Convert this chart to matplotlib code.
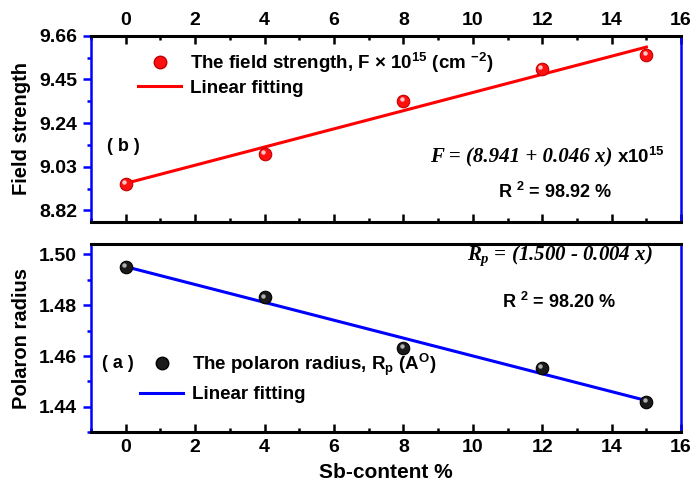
import matplotlib
matplotlib.use('Agg')
import matplotlib.pyplot as plt
import matplotlib.transforms as mtransforms
from matplotlib.ticker import MultipleLocator, FormatStrFormatter
from matplotlib.lines import Line2D
import numpy as np

plt.rcParams['font.family'] = 'Liberation Sans'
plt.rcParams['font.weight'] = 'bold'
plt.rcParams['axes.labelweight'] = 'bold'
plt.rcParams['mathtext.fontset'] = 'custom'
plt.rcParams['mathtext.rm'] = 'Liberation Sans:bold'
plt.rcParams['mathtext.bf'] = 'Liberation Sans:bold'
plt.rcParams['mathtext.it'] = 'Liberation Serif:bold:italic'
plt.rcParams['mathtext.default'] = 'rm'

# Sb content (%) and measured quantities
sb = [0, 4, 8, 12, 15]
field = [8.947, 9.092, 9.345, 9.502, 9.568]      # x 1e15 cm^-2
radius = [1.4950, 1.4831, 1.4633, 1.4554, 1.4420]  # Angstrom

field_ticks = [8.82, 9.03, 9.24, 9.45, 9.66]
radius_ticks = [1.44, 1.46, 1.48, 1.50]

fig = plt.figure(figsize=(7, 4.9), dpi=100)
ax_top = fig.add_axes([0.130, 0.547, 0.843, 0.380])
ax_bot = fig.add_axes([0.130, 0.118, 0.843, 0.384])


def style(ax, yticks, ylim, minor):
    ax.set_xlim(-1, 16)
    ax.set_ylim(*ylim)
    ax.xaxis.set_major_locator(MultipleLocator(2))
    ax.xaxis.set_minor_locator(MultipleLocator(1))
    ax.set_yticks(yticks)
    ax.yaxis.set_major_formatter(FormatStrFormatter('%.2f'))
    ax.yaxis.set_minor_locator(MultipleLocator(minor))
    for s in ax.spines.values():
        s.set_linewidth(2.2)
    ax.spines['left'].set_color('blue')
    ax.spines['right'].set_color('blue')
    ax.spines['left'].set_linewidth(1.8)
    ax.spines['right'].set_linewidth(1.8)
    ax.tick_params(axis='y', which='both', direction='out', color='blue',
                   width=1.8, labelsize=14, right=False, pad=4)
    ax.tick_params(axis='y', which='major', length=6)
    ax.tick_params(axis='y', which='minor', length=3)
    ax.tick_params(axis='x', which='both', direction='in', width=1.8,
                   labelsize=14, pad=5)
    ax.tick_params(axis='x', which='major', length=6)
    ax.tick_params(axis='x', which='minor', length=3)


def spheres(ax, x, y, color, edge, shine):
    ax.plot(x, y, 'o', ms=9, color=color, mec=edge, mew=0.8, zorder=3)
    off = mtransforms.offset_copy(ax.transData, fig=fig, x=-1.3, y=1.3,
                                  units='points')
    ax.plot(x, y, 'o', ms=3.2, color=shine, mec='none', transform=off,
            zorder=4)


xs = np.array([sb[0], sb[-1]])

# (b) field strength
style(ax_top, field_ticks, (8.764, 9.66), 0.105)
ax_top.xaxis.tick_top()
ax_top.tick_params(axis='x', which='both', bottom=True, top=True,
                   labelbottom=False, labeltop=True)
k, b = np.polyfit(sb, field, 1)
ax_top.plot(xs, b + k * xs, color='red', lw=2.2, zorder=2)
spheres(ax_top, sb, field, '#ff1010', '#c00000', '#ffc8c8')
ax_top.set_ylabel('Field strength', fontsize=14.5, labelpad=6)
h_top = [Line2D([], [], ls='none', marker='o', ms=9, color='#ff1010',
                mec='#c00000'),
         Line2D([], [], color='red', lw=2.2)]
ax_top.legend(h_top, ['The field strength, F \u00d7 10$^{15}$ (cm $^{-2}$)',
                      'Linear fitting'],
              loc='upper left', bbox_to_anchor=(0.08, 0.92), frameon=False,
              fontsize=13.5, handlelength=2.3, handletextpad=0.45,
              borderaxespad=0, borderpad=0, labelspacing=0.25)
ax_top.text(0.027, 0.403, '( b )', transform=ax_top.transAxes, fontsize=13,
            va='center', ha='left')
ax_top.text(0.883, 0.317, 'F = (8.941 + 0.046 x)', transform=ax_top.transAxes,
            fontsize=15, family='Liberation Serif', style='italic',
            weight='bold', ha='right', va='baseline')
ax_top.text(0.8915, 0.317, 'x10$^{15}$', transform=ax_top.transAxes,
            fontsize=13.5, ha='left', va='baseline')
ax_top.text(0.690, 0.129, 'R $^{2}$ = 98.92 %', transform=ax_top.transAxes,
            fontsize=13, ha='left', va='baseline')

# (a) polaron radius
style(ax_bot, radius_ticks, (1.430, 1.5041), 0.01)
ax_bot.tick_params(axis='x', which='both', top=False)
k, b = np.polyfit(sb, radius, 1)
ax_bot.plot(xs, b + k * xs, color='blue', lw=2.2, zorder=2)
spheres(ax_bot, sb, radius, '#1a1a1a', '#000000', '#b0b0b0')
ax_bot.set_ylabel('Polaron radius', fontsize=14.5, labelpad=6)
ax_bot.set_xlabel('Sb-content %', fontsize=15, labelpad=5)
h_bot = [Line2D([], [], ls='none', marker='o', ms=9, color='#1a1a1a',
                mec='#000000'),
         Line2D([], [], color='blue', lw=2.2)]
ax_bot.legend(h_bot, ['The polaron radius, R$_{p}$ (A$^{O}$)',
                      'Linear fitting'],
              loc='upper left', bbox_to_anchor=(0.083, 0.43), frameon=False,
              fontsize=13.5, handlelength=2.3, handletextpad=0.45,
              borderaxespad=0, borderpad=0, labelspacing=0.45)
ax_bot.text(0.019, 0.367, '( a )', transform=ax_bot.transAxes, fontsize=13,
            va='center', ha='left')
ax_bot.text(0.951, 0.915, r'$\mathit{R_p}$ = (1.500 - 0.004 x)',
            transform=ax_bot.transAxes, fontsize=15, family='Liberation Serif',
            style='italic', weight='bold', ha='right', va='baseline')
ax_bot.text(0.697, 0.660, 'R $^{2}$ = 98.20 %', transform=ax_bot.transAxes,
            fontsize=13, ha='left', va='baseline')

fig.savefig('out.png', dpi=100)
